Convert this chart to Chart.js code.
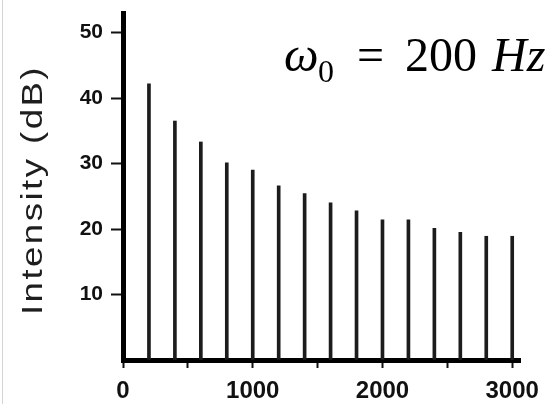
<!DOCTYPE html>
<html>
<head>
<meta charset="utf-8">
<script src="https://cdn.jsdelivr.net/npm/chart.js@4/dist/chart.umd.min.js"></script>
<style>
  html, body { margin: 0; padding: 0; background: #fff; }
  #wrap { position: relative; width: 556px; height: 404px; }
  #edge { position: absolute; left: 2px; top: 0; width: 0; height: 404px; border-left: 1px solid #d4d4d4; }
  canvas { position: absolute; left: 0; top: 0; }
</style>
</head>
<body>
<div id="wrap"><canvas id="c" width="556" height="404"></canvas><div id="edge"></div></div>
<script>
// Harmonic frequencies (Hz)
const frequencies = [200, 400, 600, 800, 1000, 1200, 1400, 1600, 1800, 2000, 2200, 2400, 2600, 2800, 3000];
// Intensity of each harmonic (dB)
const intensities = [42.2, 36.5, 33.3, 30.1, 29.0, 26.6, 25.4, 24.0, 22.8, 21.4, 21.4, 20.1, 19.5, 18.9, 18.9];
const yTickValues = [10, 20, 30, 40, 50];
const xTickValues = [0, 500, 1000, 1500, 2000, 2500, 3000];
const xLabelValues = [0, 1000, 2000, 3000];
const yAxisTitle = 'Intensity (dB)';
const annotation = { symbol: 'ω', sub: '0', eq: '=', value: '200', unit: 'Hz' };

const points = frequencies.map((f, i) => ({ x: f, y: intensities[i] }));

const textPlugin = {
  id: 'texts',
  afterDraw(chart) {
    const ctx = chart.ctx;
    ctx.save();
    ctx.fillStyle = '#000';
    ctx.textBaseline = 'alphabetic';
    ctx.textAlign = 'left';
    // annotation ω0 = 200 Hz
    ctx.font = 'italic 49px "Liberation Serif"';
    ctx.fillText(annotation.symbol, 284, 71);
    ctx.font = '32px "Liberation Serif"';
    ctx.fillText(annotation.sub, 318, 82);
    ctx.font = '48px "Liberation Serif"';
    ctx.fillText(annotation.eq, 357, 71);
    ctx.fillText(annotation.value, 405, 71);
    ctx.font = 'italic 48px "Liberation Serif"';
    ctx.fillText(annotation.unit, 492, 71);

    // y axis title
    ctx.fillStyle = '#1e1e1e';
    ctx.font = '30px "Liberation Sans"';
    ctx.letterSpacing = '2px';
    const w = ctx.measureText(yAxisTitle).width;
    ctx.translate(42, 190);
    ctx.rotate(-Math.PI / 2);
    ctx.scale(250 / w, 1);
    ctx.textAlign = 'center';
    ctx.fillText(yAxisTitle, 0, 0);
    ctx.restore();
  }
};

new Chart(document.getElementById('c'), {
  type: 'bar',
  data: {
    datasets: [{
      data: points,
      backgroundColor: '#1c1c1c',
      borderWidth: 0,
      barThickness: 3
    }]
  },
  options: {
    responsive: false,
    animation: false,
    devicePixelRatio: 1,
    layout: { padding: { top: 13, right: 36, left: 0, bottom: 0 } },
    plugins: { legend: { display: false }, tooltip: { enabled: false }, title: { display: false } },
    scales: {
      x: {
        type: 'linear',
        min: 0,
        max: 3060,
        offset: false,
        afterBuildTicks(s) { s.ticks = xTickValues.map(v => ({ value: v })); },
        afterFit(s) { s.height = 44; },
        border: { display: true, width: 5, color: '#000' },
        grid: { display: true, offset: false, drawOnChartArea: false, drawTicks: true, tickLength: 8, tickWidth: 2, tickColor: '#111' },
        ticks: {
          autoSkip: false,
          maxRotation: 0,
          padding: 9,
          color: '#111',
          font: { family: '"Liberation Sans Narrow", "Liberation Sans"', weight: 'bold', size: 24 },
          callback: (v) => xLabelValues.includes(Math.round(v)) ? String(Math.round(v)) : ''
        }
      },
      y: {
        type: 'linear',
        min: 0,
        max: 53,
        afterBuildTicks(s) { s.ticks = [0].concat(yTickValues).map(v => ({ value: v })); },
        afterFit(s) { s.width = 123; s.paddingTop = 0; s.paddingBottom = 0; },
        border: { display: true, width: 5, color: '#000' },
        grid: {
          display: true, drawOnChartArea: false, drawTicks: true, tickLength: 12, tickWidth: 2,
          tickColor: (c) => c.tick && c.tick.value === 0 ? 'rgba(0,0,0,0)' : '#111'
        },
        ticks: {
          padding: 8,
          color: '#111',
          font: { family: '"Liberation Sans"', weight: 'bold', size: 21, lineHeight: 1 },
          callback: (v) => yTickValues.includes(v) ? String(v) : ''
        }
      }
    }
  },
  plugins: [textPlugin]
});
</script>
</body>
</html>
